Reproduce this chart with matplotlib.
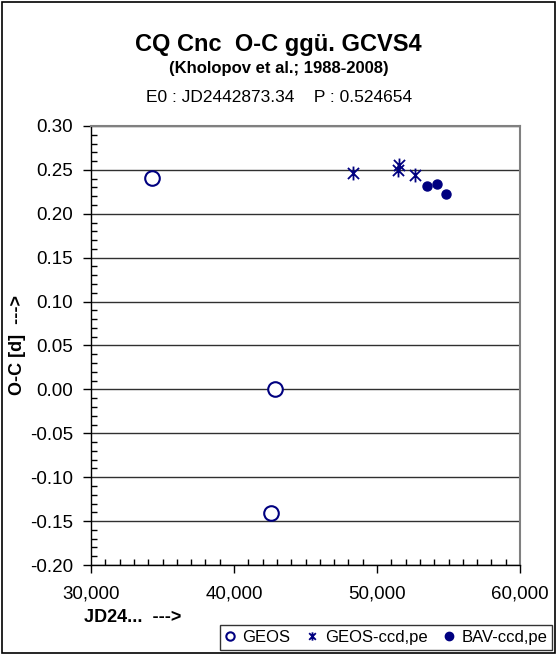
import numpy as np
import matplotlib.pyplot as plt
from matplotlib.path import Path
from matplotlib.patches import Rectangle
from matplotlib.ticker import MultipleLocator, FuncFormatter

plt.rcParams["font.family"] = ["Liberation Sans", "DejaVu Sans"]

# O-C data (JD - 2400000, days)
geos_jd = [34270, 42870, 42590]
geos_oc = [0.241, 0.000, -0.141]

geos_ccd_jd = [48300, 51480, 51560, 52660]
geos_ccd_oc = [0.247, 0.250, 0.256, 0.244]

bav_ccd_jd = [53470, 54170, 54830]
bav_ccd_oc = [0.232, 0.234, 0.223]

TITLE = "CQ Cnc  O-C ggü. GCVS4"
SUBTITLE = "(Kholopov et al.; 1988-2008)"
ELEMENTS = "E0 : JD2442873.34    P : 0.524654"
NAVY = "#000080"

# asterisk like the spreadsheet one: X plus a vertical bar
star = Path(
    [(-1, -1), (1, 1), (-1, 1), (1, -1), (0, -1.25), (0, 1.25)],
    [Path.MOVETO, Path.LINETO, Path.MOVETO, Path.LINETO, Path.MOVETO, Path.LINETO],
)

fig = plt.figure(figsize=(5.57, 6.55), dpi=100)
ax = fig.add_axes([91 / 557, 1 - 565 / 655, 429 / 557, 439 / 655])

ax.set_xlim(30000, 60000)
ax.set_ylim(-0.20, 0.30)
ax.yaxis.set_major_locator(MultipleLocator(0.05))
ax.yaxis.set_minor_locator(MultipleLocator(0.01))
ax.xaxis.set_major_locator(MultipleLocator(10000))
ax.xaxis.set_minor_locator(MultipleLocator(1000))
ax.yaxis.set_major_formatter(FuncFormatter(lambda v, p: f"{v:.2f}"))
ax.xaxis.set_major_formatter(FuncFormatter(lambda v, p: f"{v:,.0f}"))

ax.tick_params(which="major", direction="out", length=6, width=1, labelsize=13.5, color="black")
ax.tick_params(axis="y", which="major", pad=7)
ax.tick_params(axis="x", which="major", pad=9)
ax.tick_params(which="minor", direction="in", length=4, width=1, color="black")

ax.grid(axis="y", which="major", color="#303030", linewidth=1)
ax.set_axisbelow(True)
for s in ["left", "bottom"]:
    ax.spines[s].set_color("black")
    ax.spines[s].set_linewidth(1)
for s in ["top", "right"]:
    ax.spines[s].set_color("#808080")
    ax.spines[s].set_linewidth(1.5)

ax.plot(geos_jd, geos_oc, linestyle="none", marker="o", markersize=10.5,
        markerfacecolor="white", markeredgecolor=NAVY, markeredgewidth=1.5,
        label="GEOS", clip_on=False)
ax.plot(geos_ccd_jd, geos_ccd_oc, linestyle="none", marker=star, markersize=10,
        markerfacecolor="none", markeredgecolor=NAVY, markeredgewidth=1.3,
        label="GEOS-ccd,pe")
ax.plot(bav_ccd_jd, bav_ccd_oc, linestyle="none", marker="o", markersize=6.5,
        color=NAVY, label="BAV-ccd,pe")

fig.text(0.5, 1 - 44 / 655, TITLE, ha="center", va="center", fontsize=17, fontweight="bold")
fig.text(0.5, 1 - 69 / 655, SUBTITLE, ha="center", va="center", fontsize=12, fontweight="bold")
fig.text(279 / 557, 1 - 98 / 655, ELEMENTS, ha="center", va="center", fontsize=12.5)

fig.text(18 / 557, 1 - 345 / 655, "O-C [d]  --->", rotation=90, ha="center", va="center",
         fontsize=13, fontweight="bold")
fig.text(133 / 557, 1 - 618 / 655, "JD24...  --->", ha="center", va="center",
         fontsize=13, fontweight="bold")

leg = fig.legend(loc="upper left", bbox_to_anchor=(220 / 557, 1 - 625 / 655), ncol=3,
                 frameon=True, fancybox=False, fontsize=12, handlelength=0.6,
                 handletextpad=0.45, columnspacing=1.0, borderpad=0.3, borderaxespad=0)
leg.get_frame().set_edgecolor("black")
leg.get_frame().set_linewidth(1)
for h in leg.legend_handles:
    h.set_markersize(6)

# outer chart frame
fig.patches.append(Rectangle((2 / 557, 2 / 655), 553 / 557, 651 / 655, transform=fig.transFigure,
                             fill=False, edgecolor="black", linewidth=1.2))

fig.savefig("out.png", dpi=100)
